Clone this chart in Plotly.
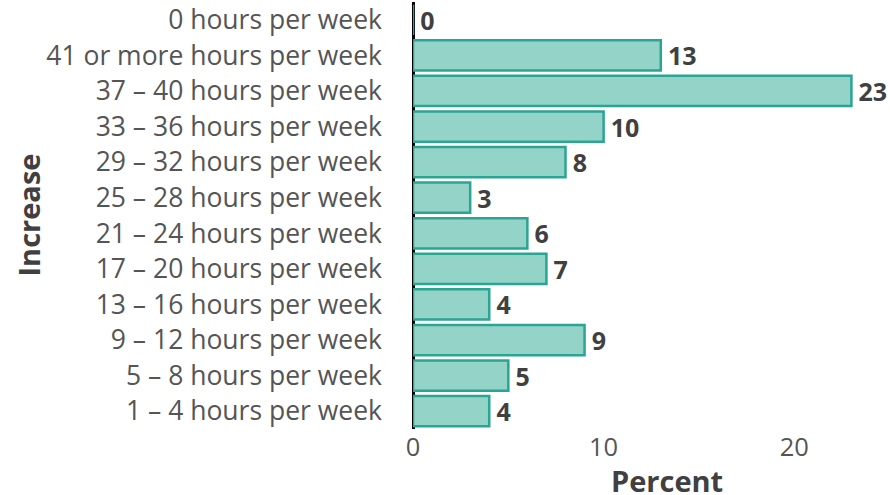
import plotly.graph_objects as go

categories = [
    "1 – 4 hours per week",
    "5 – 8 hours per week",
    "9 – 12 hours per week",
    "13 – 16 hours per week",
    "17 – 20 hours per week",
    "21 – 24 hours per week",
    "25 – 28 hours per week",
    "29 – 32 hours per week",
    "33 – 36 hours per week",
    "37 – 40 hours per week",
    "41 or more hours per week",
    "0 hours per week",
]
percent = [4, 5, 9, 4, 7, 6, 3, 8, 10, 23, 13, 0]

FONT = "Open Sans"
X_MAX = 24.5
fig = go.Figure(
    go.Bar(
        x=percent,
        y=categories,
        orientation="h",
        marker=dict(color="#93d3c8", line=dict(color="#2aa594", width=2.5)),
        text=["\u2009" + str(v) for v in percent],
        textposition="outside",
        constraintext="none",
        textfont=dict(family=FONT, size=25, color="#404040", weight="bold"),
        cliponaxis=False,
        hoverinfo="skip",
    )
)

fig.update_layout(
    width=890,
    height=495,
    margin=dict(l=413, r=10, t=2, b=66),
    plot_bgcolor="white",
    paper_bgcolor="white",
    bargap=0.15,
    showlegend=False,
    font=dict(family=FONT, color="#555555"),
    annotations=[
        dict(
            text="<b>Increase</b>",
            xref="paper", yref="paper",
            x=(28 - 413) / 467, y=0.5,
            xanchor="center", yanchor="middle",
            textangle=-90, showarrow=False,
            font=dict(family=FONT, size=29, color="#404040"),
        ),
        dict(
            text="<b>Percent</b>",
            xref="x", yref="paper",
            x=13.3, y=-0.12,
            xanchor="center", yanchor="middle",
            showarrow=False,
            font=dict(family=FONT, size=29, color="#404040"),
        ),
    ],
)
fig.update_xaxes(
    range=[0, X_MAX],
    tickvals=[0, 10, 20],
    showgrid=False,
    zeroline=True,
    zerolinecolor="black",
    zerolinewidth=2.5,
    showline=False,
    tickfont=dict(family=FONT, size=25.5, color="#555555"),
)
fig.update_yaxes(
    range=[-0.5, 11.5],
    showgrid=False,
    showline=False,
    ticks="",
    ticklabelstandoff=30,
    tickfont=dict(family=FONT, size=26.5, color="#555555"),
)

fig.write_html("out.html")
